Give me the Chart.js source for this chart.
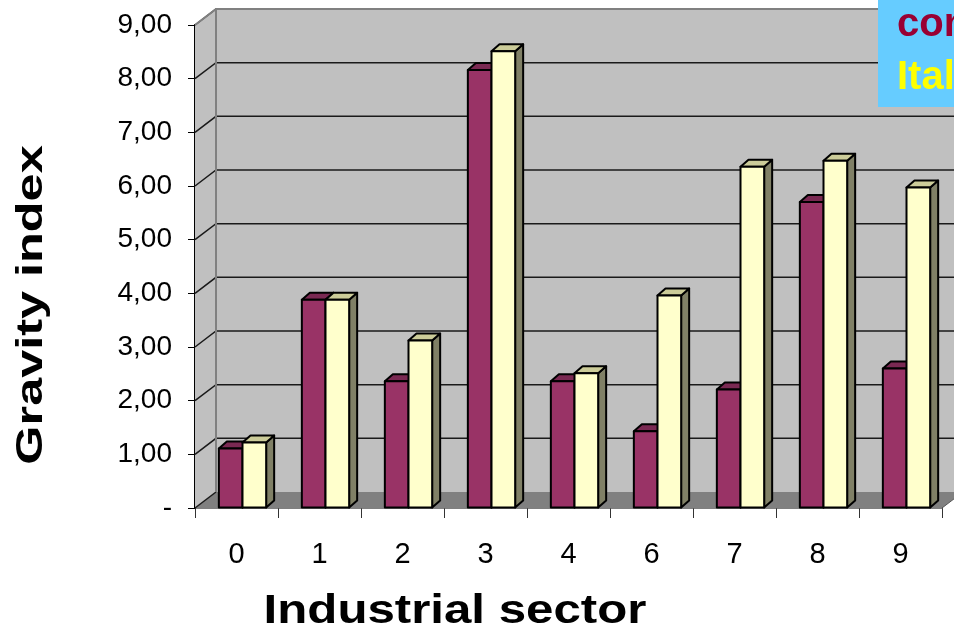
<!DOCTYPE html>
<html>
<head>
<meta charset="utf-8">
<script src="https://cdn.jsdelivr.net/npm/chart.js@4.4.1/dist/chart.umd.min.js"></script>
<style>
  html, body { margin: 0; padding: 0; background: #fff; overflow: hidden; }
  canvas { display: block; }
</style>
</head>
<body>
<canvas id="gravityChart" width="954" height="634"></canvas>
<script>
// data
const sectors = ['0', '1', '2', '3', '4', '6', '7', '8', '9'];
const competitorValues = [1.11, 3.88, 2.36, 8.16, 2.36, 1.43, 2.21, 5.70, 2.60];
const italyValues = [1.22, 3.88, 3.12, 8.51, 2.51, 3.96, 6.36, 6.47, 5.97];
const seriesNames = ['competitors', 'Italy'];
const yTickLabels = ['-', '1,00', '2,00', '3,00', '4,00', '5,00', '6,00', '7,00', '8,00', '9,00'];
const yAxisTitle = 'Gravity index';
const xAxisTitle = 'Industrial sector';

const FONT = '"Liberation Sans", Arial, sans-serif';

// front / top / side colours for each series
const faceColors = [
    { front: '#993366', top: '#7a2952', side: '#6b2347' },
    { front: '#ffffcc', top: '#cccc99', side: '#808066' }
];
const legendTextColors = ['#990033', '#ffff00'];

// 3d look: wall depth and bar depth
const WALL_DX = 21, WALL_DY = -16;
const BAR_DX = 8, BAR_DY = -7;
const BAR_SHIFT = 6;

const walls3d = {
    id: 'walls3d',
    afterDatasetsUpdate(chart) {
        // bars sit a bit behind the front axis, so they look shifted right
        chart.data.datasets.forEach((ds, i) => {
            chart.getDatasetMeta(i).data.forEach(el => { el.x += BAR_SHIFT; });
        });
    },
    beforeDatasetsDraw(chart) {
        const { ctx, chartArea: a, scales: { y } } = chart;
        ctx.save();

        // back wall
        ctx.fillStyle = '#c0c0c0';
        ctx.fillRect(a.left + WALL_DX, a.top + WALL_DY, chart.width, a.bottom - a.top);

        // side wall
        ctx.beginPath();
        ctx.moveTo(a.left, a.top);
        ctx.lineTo(a.left + WALL_DX, a.top + WALL_DY);
        ctx.lineTo(a.left + WALL_DX, a.bottom + WALL_DY);
        ctx.lineTo(a.left, a.bottom);
        ctx.closePath();
        ctx.fill();

        // floor
        ctx.fillStyle = '#808080';
        ctx.beginPath();
        ctx.moveTo(a.left, a.bottom);
        ctx.lineTo(a.right, a.bottom);
        ctx.lineTo(a.right + WALL_DX, a.bottom + WALL_DY);
        ctx.lineTo(a.left + WALL_DX, a.bottom + WALL_DY);
        ctx.closePath();
        ctx.fill();
        ctx.strokeStyle = '#555';
        ctx.lineWidth = 1;
        ctx.beginPath();
        ctx.moveTo(a.right, a.bottom);
        ctx.lineTo(a.right + WALL_DX, a.bottom + WALL_DY);
        ctx.stroke();

        // grid lines on side and back wall
        ctx.strokeStyle = '#1a1a1a';
        ctx.lineWidth = 1.5;
        y.ticks.forEach(t => {
            if (t.value === 0) return;
            const py = y.getPixelForValue(t.value);
            ctx.beginPath();
            ctx.moveTo(a.left, py);
            ctx.lineTo(a.left + WALL_DX, py + WALL_DY);
            ctx.lineTo(chart.width, py + WALL_DY);
            ctx.stroke();
        });
        // floor line on side wall
        ctx.beginPath();
        ctx.moveTo(a.left, a.bottom);
        ctx.lineTo(a.left + WALL_DX, a.bottom + WALL_DY);
        ctx.stroke();

        // wall edges
        ctx.strokeStyle = '#808080';
        ctx.lineWidth = 2;
        ctx.beginPath();
        ctx.moveTo(a.left, a.top);
        ctx.lineTo(a.left + WALL_DX, a.top + WALL_DY);
        ctx.lineTo(chart.width, a.top + WALL_DY);
        ctx.moveTo(a.left + WALL_DX, a.top + WALL_DY);
        ctx.lineTo(a.left + WALL_DX, a.bottom + WALL_DY);
        ctx.stroke();

        ctx.restore();
    },
    afterDatasetsDraw(chart) {
        const ctx = chart.ctx;
        const metas = chart.data.datasets.map((ds, i) => chart.getDatasetMeta(i));
        ctx.save();
        ctx.strokeStyle = '#000';
        ctx.lineWidth = 2;
        ctx.lineJoin = 'round';
        sectors.forEach((s, i) => {
            metas.forEach((meta, d) => {
                const el = meta.data[i];
                const left = el.x - el.width / 2;
                const right = el.x + el.width / 2;
                const top = el.y, bottom = el.base;
                const c = faceColors[d];

                // side face
                ctx.fillStyle = c.side;
                ctx.beginPath();
                ctx.moveTo(right, bottom);
                ctx.lineTo(right + BAR_DX, bottom + BAR_DY);
                ctx.lineTo(right + BAR_DX, top + BAR_DY);
                ctx.lineTo(right, top);
                ctx.closePath();
                ctx.fill();
                ctx.stroke();

                // top face
                ctx.fillStyle = c.top;
                ctx.beginPath();
                ctx.moveTo(left, top);
                ctx.lineTo(right, top);
                ctx.lineTo(right + BAR_DX, top + BAR_DY);
                ctx.lineTo(left + BAR_DX, top + BAR_DY);
                ctx.closePath();
                ctx.fill();
                ctx.stroke();

                // front face
                ctx.fillStyle = c.front;
                ctx.fillRect(left, top, right - left, bottom - top);
                ctx.strokeRect(left, top, right - left, bottom - top);
            });
        });
        ctx.restore();
    }
};

function stretchedText(ctx, text, x, y, angle, sx, font, color) {
    ctx.save();
    ctx.translate(x, y);
    ctx.rotate(angle);
    ctx.scale(sx, 1);
    ctx.font = font;
    ctx.fillStyle = color;
    ctx.textAlign = 'center';
    ctx.textBaseline = 'alphabetic';
    ctx.fillText(text, 0, 0);
    ctx.restore();
}

const titlesAndLegend = {
    id: 'titlesAndLegend',
    afterDraw(chart) {
        const ctx = chart.ctx;
        stretchedText(ctx, yAxisTitle, 42, 305, -Math.PI / 2, 1.4, 'bold 36px ' + FONT, '#000');
        stretchedText(ctx, xAxisTitle, 455, 623, 0, 1.2, 'bold 41px ' + FONT, '#000');

        // legend box, cut by the right edge like the original
        ctx.save();
        ctx.fillStyle = '#66ccff';
        ctx.fillRect(878, 0, 90, 107);
        ctx.font = 'bold 40px ' + FONT;
        ctx.textAlign = 'left';
        ctx.textBaseline = 'alphabetic';
        chart.data.datasets.forEach((ds, i) => {
            ctx.fillStyle = legendTextColors[i];
            ctx.fillText(ds.label, 897, 36 + i * 53);
        });
        ctx.restore();
    }
};

const ctx = document.getElementById('gravityChart').getContext('2d');
const gravityChart = new Chart(ctx, {
    type: 'bar',
    data: {
        labels: sectors,
        datasets: [{
            label: seriesNames[0],
            data: competitorValues,
            backgroundColor: faceColors[0].front,
            borderColor: '#000',
            borderWidth: 2
        }, {
            label: seriesNames[1],
            data: italyValues,
            backgroundColor: faceColors[1].front,
            borderColor: '#000',
            borderWidth: 2
        }]
    },
    options: {
        responsive: false,
        devicePixelRatio: 1,
        animation: false,
        layout: {
            padding: { top: 25, right: 12, left: 0, bottom: 0 }
        },
        datasets: {
            bar: {
                categoryPercentage: 0.57,
                barPercentage: 1
            }
        },
        plugins: {
            legend: { display: false },
            tooltip: { enabled: false }
        },
        scales: {
            x: {
                offset: true,
                afterFit: scale => { scale.height = 126; },
                grid: {
                    offset: true,
                    drawOnChartArea: false,
                    drawTicks: true,
                    tickLength: 10,
                    color: '#333',
                    lineWidth: 1
                },
                border: { display: true, color: '#000', width: 1.5 },
                ticks: {
                    color: '#000',
                    padding: 20,
                    font: { family: FONT, size: 29 }
                }
            },
            y: {
                min: 0,
                max: 9,
                afterFit: scale => {
                    scale.width = 195;
                    scale.paddingTop = 0;
                    scale.paddingBottom = 0;
                },
                ticks: {
                    stepSize: 1,
                    color: '#000',
                    padding: 16,
                    font: { family: FONT, size: 28 },
                    callback: (value, index) => yTickLabels[index]
                },
                grid: {
                    drawOnChartArea: false,
                    drawTicks: true,
                    tickLength: 7,
                    color: '#000',
                    lineWidth: 1
                },
                border: { display: true, color: '#000', width: 1.5 }
            }
        }
    },
    plugins: [walls3d, titlesAndLegend]
});
</script>
</body>
</html>
